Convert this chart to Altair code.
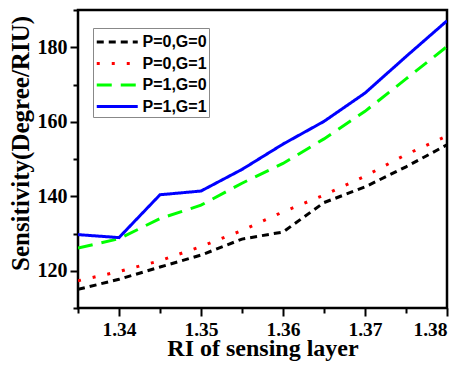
import altair as alt
import pandas as pd

ri = [1.335, 1.34, 1.345, 1.35, 1.355, 1.36, 1.365, 1.37, 1.375, 1.38]
series_names = ["P=0,G=0", "P=0,G=1", "P=1,G=0", "P=1,G=1"]
p0g0 = [115.0, 117.7, 121.0, 124.2, 128.5, 130.4, 138.3, 142.5, 147.9, 153.8]
p0g1 = [117.3, 119.8, 122.7, 126.5, 130.8, 135.8, 140.3, 145.4, 151.2, 156.2]
p1g0 = [126.1, 128.6, 134.0, 137.6, 143.5, 148.8, 155.4, 162.8, 171.5, 180.2]
p1g1 = [129.7, 128.9, 140.4, 141.4, 147.2, 154.0, 160.1, 167.7, 177.5, 187.1]
colors = ["#000000", "#ff0000", "#00ff00", "#0000ff"]
dashes = [[7, 5], [3, 12], [15, 9], [1, 0]]

x_ticks = [1.335, 1.34, 1.345, 1.35, 1.355, 1.36, 1.365, 1.37, 1.375, 1.38]
y_ticks = [110, 120, 130, 140, 150, 160, 170, 180, 190]

rows = []
for name, vals in zip(series_names, [p0g0, p0g1, p1g0, p1g1]):
    for xv, yv in zip(ri, vals):
        rows.append({"ri": xv, "s": yv, "series": name})
df = pd.DataFrame(rows)

serif = "Liberation Serif"

chart = alt.Chart(df).mark_line(strokeWidth=3, clip=True).encode(
    x=alt.X("ri:Q",
            scale=alt.Scale(domain=[1.335, 1.38], nice=False, zero=False),
            axis=alt.Axis(
                title="RI of sensing layer",
                values=x_ticks,
                labelExpr="round(datum.value*1000) % 10 == 0 ? format(datum.value, '.2f') : ''",
                tickSize={"condition": {"test": "round(datum.value*1000) % 10 == 0", "value": 8}, "value": 5},
                labelPadding=4, labelFontSize=19.5,
                titleY=47, titleBaseline="alphabetic",
            )),
    y=alt.Y("s:Q",
            scale=alt.Scale(domain=[110, 190], nice=False, zero=False),
            axis=alt.Axis(
                title="Sensitivity(Degree/RIU)",
                values=y_ticks,
                labelExpr="datum.value % 20 == 0 ? datum.label : ''",
                tickSize={"condition": {"test": "datum.value % 20 == 0", "value": 8}, "value": 5},
                labelPadding=3,
                titleX=-58, titleY=133, titleBaseline="middle", titleAlign="center",
                titleFontSize=25,
            )),
    color=alt.Color("series:N",
                    scale=alt.Scale(domain=series_names, range=colors),
                    legend=alt.Legend(title=None)),
    strokeDash=alt.StrokeDash("series:N",
                              scale=alt.Scale(domain=series_names, range=dashes),
                              legend=alt.Legend(title=None)),
).properties(
    width=369, height=298,
    autosize=alt.AutoSizeParams(type="none"),
    padding={"left": 70, "top": 2, "right": 13, "bottom": 53},
).configure_view(
    stroke="#000000", strokeWidth=2.5
).configure_axis(
    grid=False, domain=False,
    tickColor="#000000", tickWidth=2,
    labelFont=serif, labelFontWeight="bold", labelFontSize=20, labelColor="#000000",
    titleFont=serif, titleFontWeight="bold", titleFontSize=24, titleColor="#000000",
).configure_legend(
    orient="none", legendX=15, legendY=18,
    strokeColor="#888888", strokeWidth=1, padding=2,
    symbolType="M-1,0H3", symbolSize=420, symbolStrokeWidth=3,
    labelFont="Liberation Sans", labelFontWeight="bold", labelFontSize=16,
    labelColor="#000000", labelOffset=23.5, rowPadding=1.5,
)

chart.save("out.html", embed_options={"renderer": "svg", "actions": False})
